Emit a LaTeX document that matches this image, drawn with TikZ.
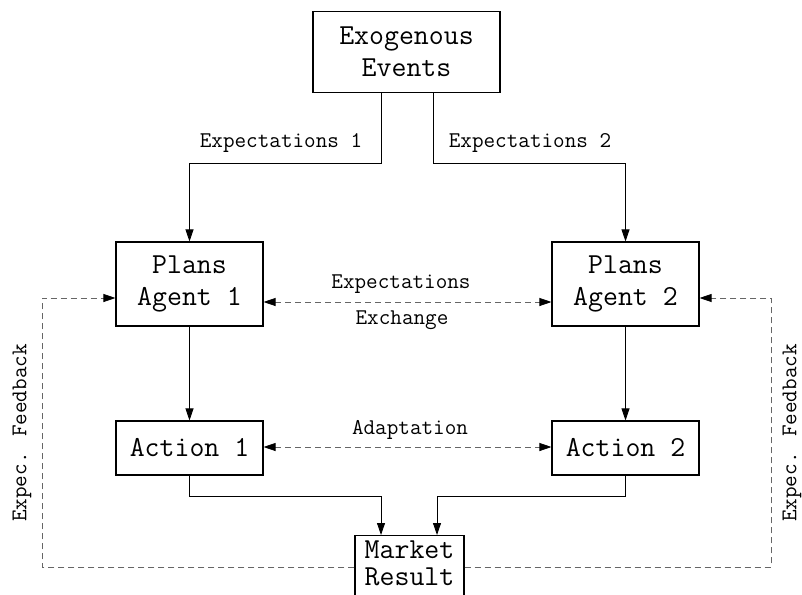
\documentclass[tikz,border=0pt]{standalone}
\usetikzlibrary{arrows.meta}
\begin{document}
\begin{tikzpicture}[x=1pt,y=-1pt,
  boxnode/.style={draw=black, line width=1.1pt, font=\fontsize{29}{32}\selectfont\ttfamily, align=center, inner sep=0pt},
  lbl/.style={font=\fontsize{22.5}{26}\selectfont\ttfamily, inner sep=0pt},
  arr/.style={draw=black, line width=0.8pt, -{Triangle[length=12pt,width=8pt]}},
  dsh/.style={draw=black!60, line width=0.8pt, dash pattern=on 6pt off 4pt},
  dsharr/.style={dsh, {Triangle[length=12pt,width=8pt,fill=black,color=black]}-{Triangle[length=12pt,width=8pt,fill=black,color=black]}},
  fbarr/.style={dsh, -{Triangle[length=12pt,width=8pt,fill=black,color=black]}}
]
\useasboundingbox (0,0) rectangle (802,594);
\node[boxnode, minimum width=187pt, minimum height=81pt] (exo) at (406.5,52) {Exogenous\\Events};
\node[boxnode, minimum width=147pt, minimum height=84pt] (p1) at (189.5,284) {Plans\\Agent 1};
\node[boxnode, minimum width=147pt, minimum height=84pt] (p2) at (625.5,284) {Plans\\Agent 2};
\node[boxnode, minimum width=147pt, minimum height=54pt] (a1) at (189.5,448) {Action 1};
\node[boxnode, minimum width=147pt, minimum height=54pt] (a2) at (625.5,448) {Action 2};
\node[boxnode, minimum width=109pt, minimum height=85pt, anchor=north, inner ysep=3pt] (mk) at (409.5,535) {};
\node[font=\fontsize{29}{27}\selectfont\ttfamily, align=center, inner sep=0pt] (mkt) at (409.5,563) {Market\\Result};

\node[lbl] (le1) at (281,143) {Expectations 1};
\node[lbl] (le2) at (530,143) {Expectations 2};
\node[lbl] (lex1) at (401,284) {Expectations};
\node[lbl] (lex2) at (402,320) {Exchange};
\node[lbl] (lad) at (410,430) {Adaptation};
\node[lbl, rotate=90] (lfb1) at (22,433) {Expec. Feedback};
\node[lbl, rotate=90] (lfb2) at (792,433) {Expec. Feedback};

\coordinate (k1) at (189.5,163);
\coordinate (k2) at (625.5,163);
\draw[arr] ([xshift=-25.5pt]exo.south) |- (k1) -- (p1.north);
\draw[arr] ([xshift=26.5pt]exo.south) |- (k2) -- (p2.north);
\draw[arr] (p1.south) -- (a1.north);
\draw[arr] (p2.south) -- (a2.north);

\coordinate (m1) at (381,496);
\coordinate (m2) at (437,496);
\draw[arr] (a1.south) |- (m1) -- (m1 |- mk.north);
\draw[arr] (a2.south) |- (m2) -- (m2 |- mk.north);

\coordinate (x1) at (0,302);
\coordinate (x2) at (0,447);
\draw[dsharr] (p1.east |- x1) -- (p2.west |- x1);
\draw[dsharr] (a1.east |- x2) -- (a2.west |- x2);

\coordinate (f1) at (42,567);
\coordinate (f2) at (42,298);
\coordinate (g1) at (771,567);
\coordinate (g2) at (771,298);
\draw[fbarr] (mk.west |- f1) -- (f1) -- (f2) -- (p1.west |- f2);
\draw[fbarr] (mk.east |- g1) -- (g1) -- (g2) -- (p2.east |- g2);
\end{tikzpicture}
\end{document}
